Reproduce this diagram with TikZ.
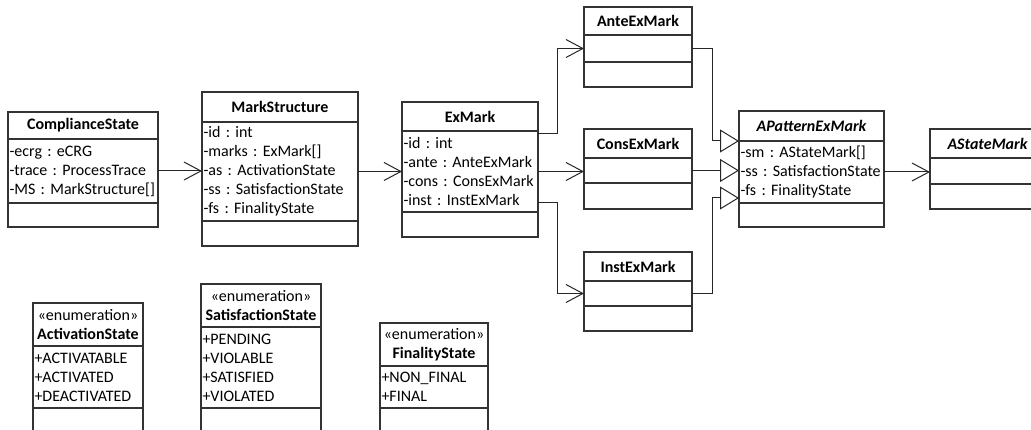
\documentclass[tikz,border=0pt]{standalone}
\usepackage{fontspec}
\setmainfont{Carlito}
\usetikzlibrary{arrows.meta, positioning}
\newcommand{\umlfont}{\fontsize{16}{19}\selectfont\frenchspacing}
\tikzset{
    umlBox/.style={draw=black!80, line width=1.2pt, inner xsep=1.5pt, inner ysep=0pt,
        outer sep=0pt, anchor=north west, font=\umlfont},
    classHead/.style={umlBox, font=\umlfont\bfseries, align=center},
    abstractHead/.style={umlBox, font=\umlfont\bfseries\itshape, align=center},
    enumHead/.style={umlBox, align=center},
    classBody/.style={umlBox, align=left},
    assoc/.style={draw=black!85, line width=1pt, -{Straight Barb[length=17pt, width=18pt]}},
    inherit/.style={draw=black!85, line width=1pt, -{Triangle[open, length=19pt, width=23pt]}},
}

\begin{document}
\begin{tikzpicture}[x=1pt, y=-1pt]
    \useasboundingbox (0,0) rectangle (1031,430);

    % Compliance state
    \node[classHead, text width=147pt, minimum height=27pt] (csHead) at (8,112) {ComplianceState};
    \node[classBody, text width=147pt, minimum height=64pt, below=0pt of csHead] (csAttr)
        {-ecrg : eCRG\\-trace : ProcessTrace\\-MS : MarkStructure[]};
    \node[classBody, text width=147pt, minimum height=24pt, below=0pt of csAttr] (csOps) {};

    % Mark structure
    \node[classHead, text width=153pt, minimum height=30pt] (msHead) at (202,92) {MarkStructure};
    \node[classBody, text width=153pt, minimum height=99pt, below=0pt of msHead] (msAttr)
        {-id : int\\-marks : ExMark[]\\-as : ActivationState\\-ss : SatisfactionState\\-fs : FinalityState};
    \node[classBody, text width=153pt, minimum height=25pt, below=0pt of msAttr] (msOps) {};

    % ExMark
    \node[classHead, text width=133pt, minimum height=29pt] (exHead) at (402,102) {ExMark};
    \node[classBody, text width=133pt, minimum height=81pt, below=0pt of exHead] (exAttr)
        {-id : int\\-ante : AnteExMark\\-cons : ConsExMark\\-inst : InstExMark};
    \node[classBody, text width=133pt, minimum height=25pt, below=0pt of exAttr] (exOps) {};

    % Ante, Cons, Inst marks
    \node[classHead, text width=105pt, minimum height=28pt] (anteHead) at (584,7) {AnteExMark};
    \node[classBody, text width=105pt, minimum height=27pt, below=0pt of anteHead] (anteAttr) {};
    \node[classBody, text width=105pt, minimum height=25pt, below=0pt of anteAttr] (anteOps) {};

    \node[classHead, text width=105pt, minimum height=29pt] (consHead) at (584,129) {ConsExMark};
    \node[classBody, text width=105pt, minimum height=25pt, below=0pt of consHead] (consAttr) {};
    \node[classBody, text width=105pt, minimum height=26pt, below=0pt of consAttr] (consOps) {};

    \node[classHead, text width=105pt, minimum height=29pt] (instHead) at (584,252) {InstExMark};
    \node[classBody, text width=105pt, minimum height=25pt, below=0pt of instHead] (instAttr) {};
    \node[classBody, text width=105pt, minimum height=25pt, below=0pt of instAttr] (instOps) {};

    % Abstract classes
    \node[abstractHead, text width=142pt, minimum height=30pt] (patHead) at (739,111) {APatternExMark};
    \node[classBody, text width=142pt, minimum height=62pt, below=0pt of patHead] (patAttr)
        {-sm : AStateMark[]\\-ss : SatisfactionState\\-fs : FinalityState};
    \node[classBody, text width=142pt, minimum height=24pt, below=0pt of patAttr] (patOps) {};

    \node[abstractHead, text width=112pt, minimum height=29pt] (smHead) at (930,129) {AStateMark};
    \node[classBody, text width=112pt, minimum height=26pt, below=0pt of smHead] (smAttr) {};
    \node[classBody, text width=112pt, minimum height=25pt, below=0pt of smAttr] (smOps) {};

    % Enumerations
    \node[enumHead, text width=107pt, minimum height=43pt] (actHead) at (33,303)
        {«enumeration»\\\textbf{ActivationState}};
    \node[classBody, text width=107pt, minimum height=62pt, below=0pt of actHead] (actAttr)
        {+ACTIVATABLE\\+ACTIVATED\\+DEACTIVATED};
    \node[classBody, text width=107pt, minimum height=30pt, below=0pt of actAttr] (actOps) {};

    \node[enumHead, text width=117pt, minimum height=43pt] (satHead) at (201,284)
        {«enumeration»\\\textbf{SatisfactionState}};
    \node[classBody, text width=117pt, minimum height=81pt, below=0pt of satHead] (satAttr)
        {+PENDING\\+VIOLABLE\\+SATISFIED\\+VIOLATED};
    \node[classBody, text width=117pt, minimum height=30pt, below=0pt of satAttr] (satOps) {};

    \node[enumHead, text width=105pt, minimum height=43pt] (finHead) at (380,323)
        {«enumeration»\\\textbf{FinalityState}};
    \node[classBody, text width=105pt, minimum height=42pt, below=0pt of finHead] (finAttr)
        {+NON\_FINAL\\+FINAL};
    \node[classBody, text width=105pt, minimum height=30pt, below=0pt of finAttr] (finOps) {};

    % Associations
    \draw[assoc] (csAttr.east) -- (csAttr.east -| msAttr.west);
    \draw[assoc] (msAttr.east) -- (msAttr.east -| exAttr.west);
    \draw[assoc] ([yshift=-3pt]exAttr.north east) -- ++(19,0) |- (anteAttr.west);
    \draw[assoc] (exAttr.east) -- (exAttr.east -| consAttr.west);
    \draw[assoc] ([yshift=9pt]exAttr.south east) -- ++(19,0) |- (instAttr.west);
    \draw[assoc] (patAttr.east) -- (patAttr.east -| smAttr.west);

    % Generalizations
    \draw[inherit] (anteAttr.east) -- ++(20,0) |- (patAttr.north west);
    \draw[inherit] (consAttr.east) -- (consAttr.east -| patAttr.west);
    \draw[inherit] (instAttr.east) -- ++(20,0) |- ([yshift=5pt]patAttr.south west);

\end{tikzpicture}
\end{document}
